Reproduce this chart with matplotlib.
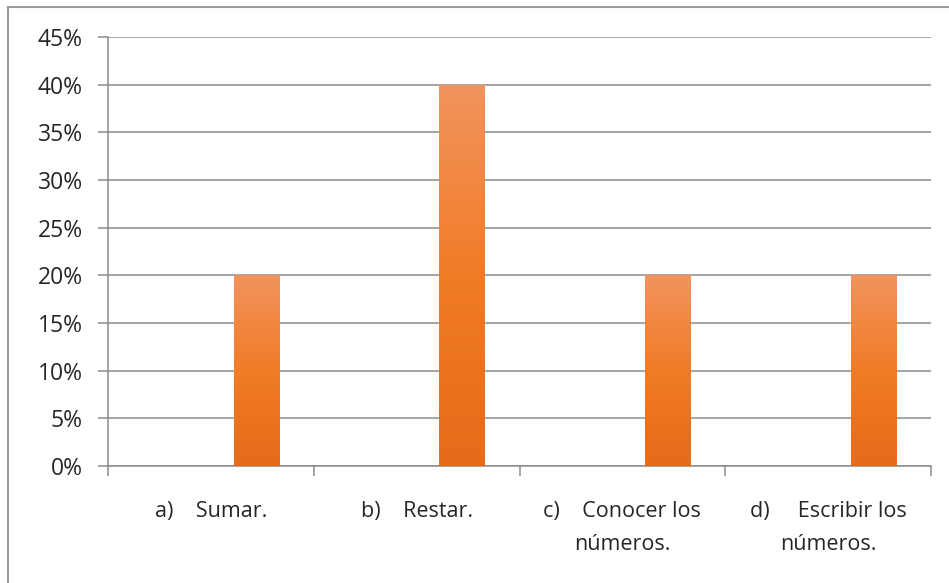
import numpy as np
import matplotlib.pyplot as plt
from matplotlib.colors import LinearSegmentedColormap
from matplotlib.lines import Line2D
from matplotlib.ticker import PercentFormatter, FixedLocator

categories = ["a)    Sumar.", "b)    Restar.", "c)    Conocer los\nnúmeros.", "d)     Escribir los\nnúmeros."]
values = [0.20, 0.40, 0.20, 0.20]
y_ticks = [0, 0.05, 0.10, 0.15, 0.20, 0.25, 0.30, 0.35, 0.40, 0.45]

plt.rcParams['font.family'] = ['Open Sans', 'DejaVu Sans']
text_color = '#262626'
grid_color = '#8c8c8c'

fig = plt.figure(figsize=(9.49, 5.83), dpi=100)
W, H = 949, 583
ax = fig.add_axes([108 / W, (H - 466) / H, (931 - 108) / W, (466 - 37) / H])

# Excel-style chart: the single series sits in the third slot (gap width 150%)
slot = 1 / 4.5
x = np.arange(len(categories))
bars = ax.bar(x + slot, values, width=slot, color='#F07F2E', zorder=3)

# vertical gradient fill for the bars
grad = LinearSegmentedColormap.from_list('og', ['#E46C1A', '#F27B26', '#F1945E'])
g = np.linspace(0, 1, 256).reshape(-1, 1)
for b in bars:
    x0, y0 = b.get_x(), b.get_y()
    im = ax.imshow(g, cmap=grad, origin='lower', aspect='auto', zorder=4,
                   extent=[x0, x0 + b.get_width(), y0, y0 + b.get_height()])
    im.set_clip_path(b)

ax.set_xlim(-0.5, len(categories) - 0.5)
ax.set_ylim(0, 0.45)
ax.set_yticks(y_ticks)
ax.yaxis.set_major_formatter(PercentFormatter(1.0, decimals=0))
ax.yaxis.grid(True, color=grid_color, linewidth=1.1, zorder=0)

ax.set_xticks(x)
ax.set_xticklabels(categories, ha='center', linespacing=1.75)
ax.xaxis.set_minor_locator(FixedLocator(np.arange(len(categories) + 1) - 0.5))
ax.tick_params(axis='x', which='major', length=0, pad=25, labelsize=15.5, labelcolor=text_color)
ax.tick_params(axis='x', which='minor', length=7.2, color=grid_color, width=1.1)
ax.tick_params(axis='y', length=7.2, color=grid_color, width=1.1, pad=11,
               labelsize=16.5, labelcolor=text_color)

for side in ['top', 'right']:
    ax.spines[side].set_visible(False)
for side in ['left', 'bottom']:
    ax.spines[side].set_color(grid_color)
    ax.spines[side].set_linewidth(1.1)

# outer chart frame (partly cut off in the original)
fig.add_artist(Line2D([8 / W, 8 / W], [0, 1 - 7 / H], color='#9a9a9a', linewidth=1.5))
fig.add_artist(Line2D([8 / W, 1], [1 - 7 / H, 1 - 7 / H], color='#9a9a9a', linewidth=1.5))

fig.savefig('out.png', dpi=100)
